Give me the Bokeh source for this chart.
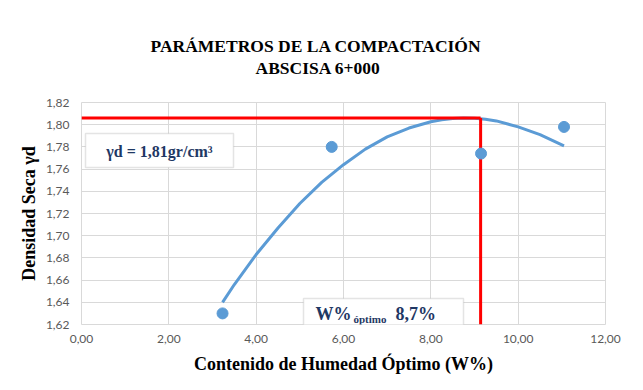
from bokeh.plotting import figure
from bokeh.models import Range1d, FixedTicker, Label, BoxAnnotation, Title
from bokeh.embed import file_html
from bokeh.resources import INLINE

# ---- data ----
x_ticks = [0, 2, 4, 6, 8, 10, 12]
x_tick_labels = ["0,00", "2,00", "4,00", "6,00", "8,00", "10,00", "12,00"]
y_ticks = [1.62, 1.64, 1.66, 1.68, 1.70, 1.72, 1.74, 1.76, 1.78, 1.80, 1.82]
y_tick_labels = ["1,62", "1,64", "1,66", "1,68", "1,70", "1,72", "1,74", "1,76", "1,78", "1,80", "1,82"]

humedad = [3.23, 5.73, 9.15, 11.05]
densidad = [1.630, 1.780, 1.774, 1.798]

curve_w = [3.23, 3.5, 4.0, 4.5, 5.0, 5.5, 6.0, 6.5, 7.0, 7.5, 8.0, 8.25, 8.5, 8.75, 9.0, 9.25, 9.5, 10.0, 10.5, 11.05]
curve_d = [1.640, 1.656, 1.683, 1.707, 1.729, 1.748, 1.764, 1.778, 1.789, 1.797, 1.8026, 1.8044, 1.8055, 1.806, 1.8058, 1.8050, 1.8034, 1.798, 1.791, 1.781]

w_opt_line = 9.14
d_max_line = 1.806

title_1 = "PARÁMETROS DE LA COMPACTACIÓN"
title_2 = "ABSCISA 6+000"
x_label = "Contenido de Humedad Óptimo (W%)"
y_label = "Densidad Seca γd"
box1_text = "γd = 1,81gr/cm³"

# ---- layout ----
W, H = 643, 390
FL, FR, FT, FB = 81, 605, 102, 324
X0, X1 = 0, 12
Y0, Y1 = 1.62, 1.82


def dx(px):
    return X0 + (px - FL) / (FR - FL) * (X1 - X0)


def dy(py):
    return Y1 - (py - FT) / (FB - FT) * (Y1 - Y0)


p = figure(width=W, height=H, output_backend="svg", toolbar_location=None,
           x_range=Range1d(X0, X1), y_range=Range1d(Y0, Y1),
           min_border_left=FL, min_border_right=W - FR,
           min_border_top=FT, min_border_bottom=H - FB)
p.background_fill_color = "white"
p.border_fill_color = "white"
p.outline_line_color = "#d9d9d9"

# titles: spacer next to the frame, then line 2, then line 1
p.add_layout(Title(text=" ", text_font_size="10px", standoff=12), "above")
p.add_layout(Title(text=title_2, align="left", offset=174, standoff=0,
                   text_font="Liberation Serif", text_font_style="bold",
                   text_font_size="17.5px", text_color="black"), "above")
p.add_layout(Title(text=title_1, align="left", offset=69, standoff=0,
                   text_font="Liberation Serif", text_font_style="bold",
                   text_font_size="17.5px", text_color="black"), "above")

p.xaxis.ticker = FixedTicker(ticks=x_ticks)
p.yaxis.ticker = FixedTicker(ticks=y_ticks)
p.xaxis.major_label_overrides = dict(zip(x_ticks, x_tick_labels))
p.yaxis.major_label_overrides = dict(zip(y_ticks, y_tick_labels))
for ax in (p.xaxis, p.yaxis):
    ax.axis_line_color = None
    ax.major_tick_line_color = None
    ax.minor_tick_line_color = None
    ax.major_tick_out = 0
    ax.major_tick_in = 0
    ax.major_label_text_font = "Lato"
    ax.major_label_text_font_size = "12px"
    ax.major_label_text_color = "#595959"
    ax.axis_label_text_font = "Liberation Serif"
    ax.axis_label_text_font_style = "bold"
    ax.axis_label_text_color = "black"
p.xaxis.major_label_standoff = 10
p.yaxis.major_label_standoff = 12
p.xaxis.axis_label = x_label
p.yaxis.axis_label = y_label
p.xaxis.axis_label_text_font_size = "18px"
p.yaxis.axis_label_text_font_size = "18px"
p.xaxis.axis_label_standoff = 8
p.yaxis.axis_label_standoff = 4

p.xgrid.grid_line_color = "#d9d9d9"
p.ygrid.grid_line_color = "#d9d9d9"

# trend curve
p.line(curve_w, curve_d, line_color="#5B9BD5", line_width=3)
# red guide lines
p.line([X0, w_opt_line], [d_max_line, d_max_line], line_color="#FF0000", line_width=3)
p.line([w_opt_line, w_opt_line], [d_max_line, Y0], line_color="#FF0000", line_width=3)
# points
p.scatter(humedad, densidad, size=11, fill_color="#5B9BD5", line_color="#5B9BD5")

NAVY = "#1F3864"
# box 1
p.add_layout(BoxAnnotation(left=dx(85), right=dx(233), top=dy(133), bottom=dy(167),
                           fill_color="white", fill_alpha=1, line_color="#a6a6a6", line_width=1.5))
p.add_layout(Label(x=dx(159), y=dy(151), text=box1_text, text_align="center", text_baseline="middle",
                   text_font="Liberation Serif", text_font_style="bold", text_font_size="16px",
                   text_color=NAVY))
# box 2
p.add_layout(BoxAnnotation(left=dx(303), right=dx(463), top=dy(298), bottom=dy(325),
                           fill_color="white", fill_alpha=1, line_color="#a6a6a6", line_width=1.5))
p.add_layout(Label(x=dx(315), y=dy(313), text="W%", text_align="left", text_baseline="middle",
                   text_font="Liberation Serif", text_font_style="bold", text_font_size="18px",
                   text_color=NAVY))
p.add_layout(Label(x=dx(353), y=dy(318), text="óptimo", text_align="left", text_baseline="middle",
                   text_font="Liberation Serif", text_font_style="bold", text_font_size="11px",
                   text_color=NAVY))
p.add_layout(Label(x=dx(395), y=dy(313), text="8,7%", text_align="left", text_baseline="middle",
                   text_font="Liberation Serif", text_font_style="bold", text_font_size="18px",
                   text_color=NAVY))

open("out.html", "w").write(file_html(p, INLINE))
